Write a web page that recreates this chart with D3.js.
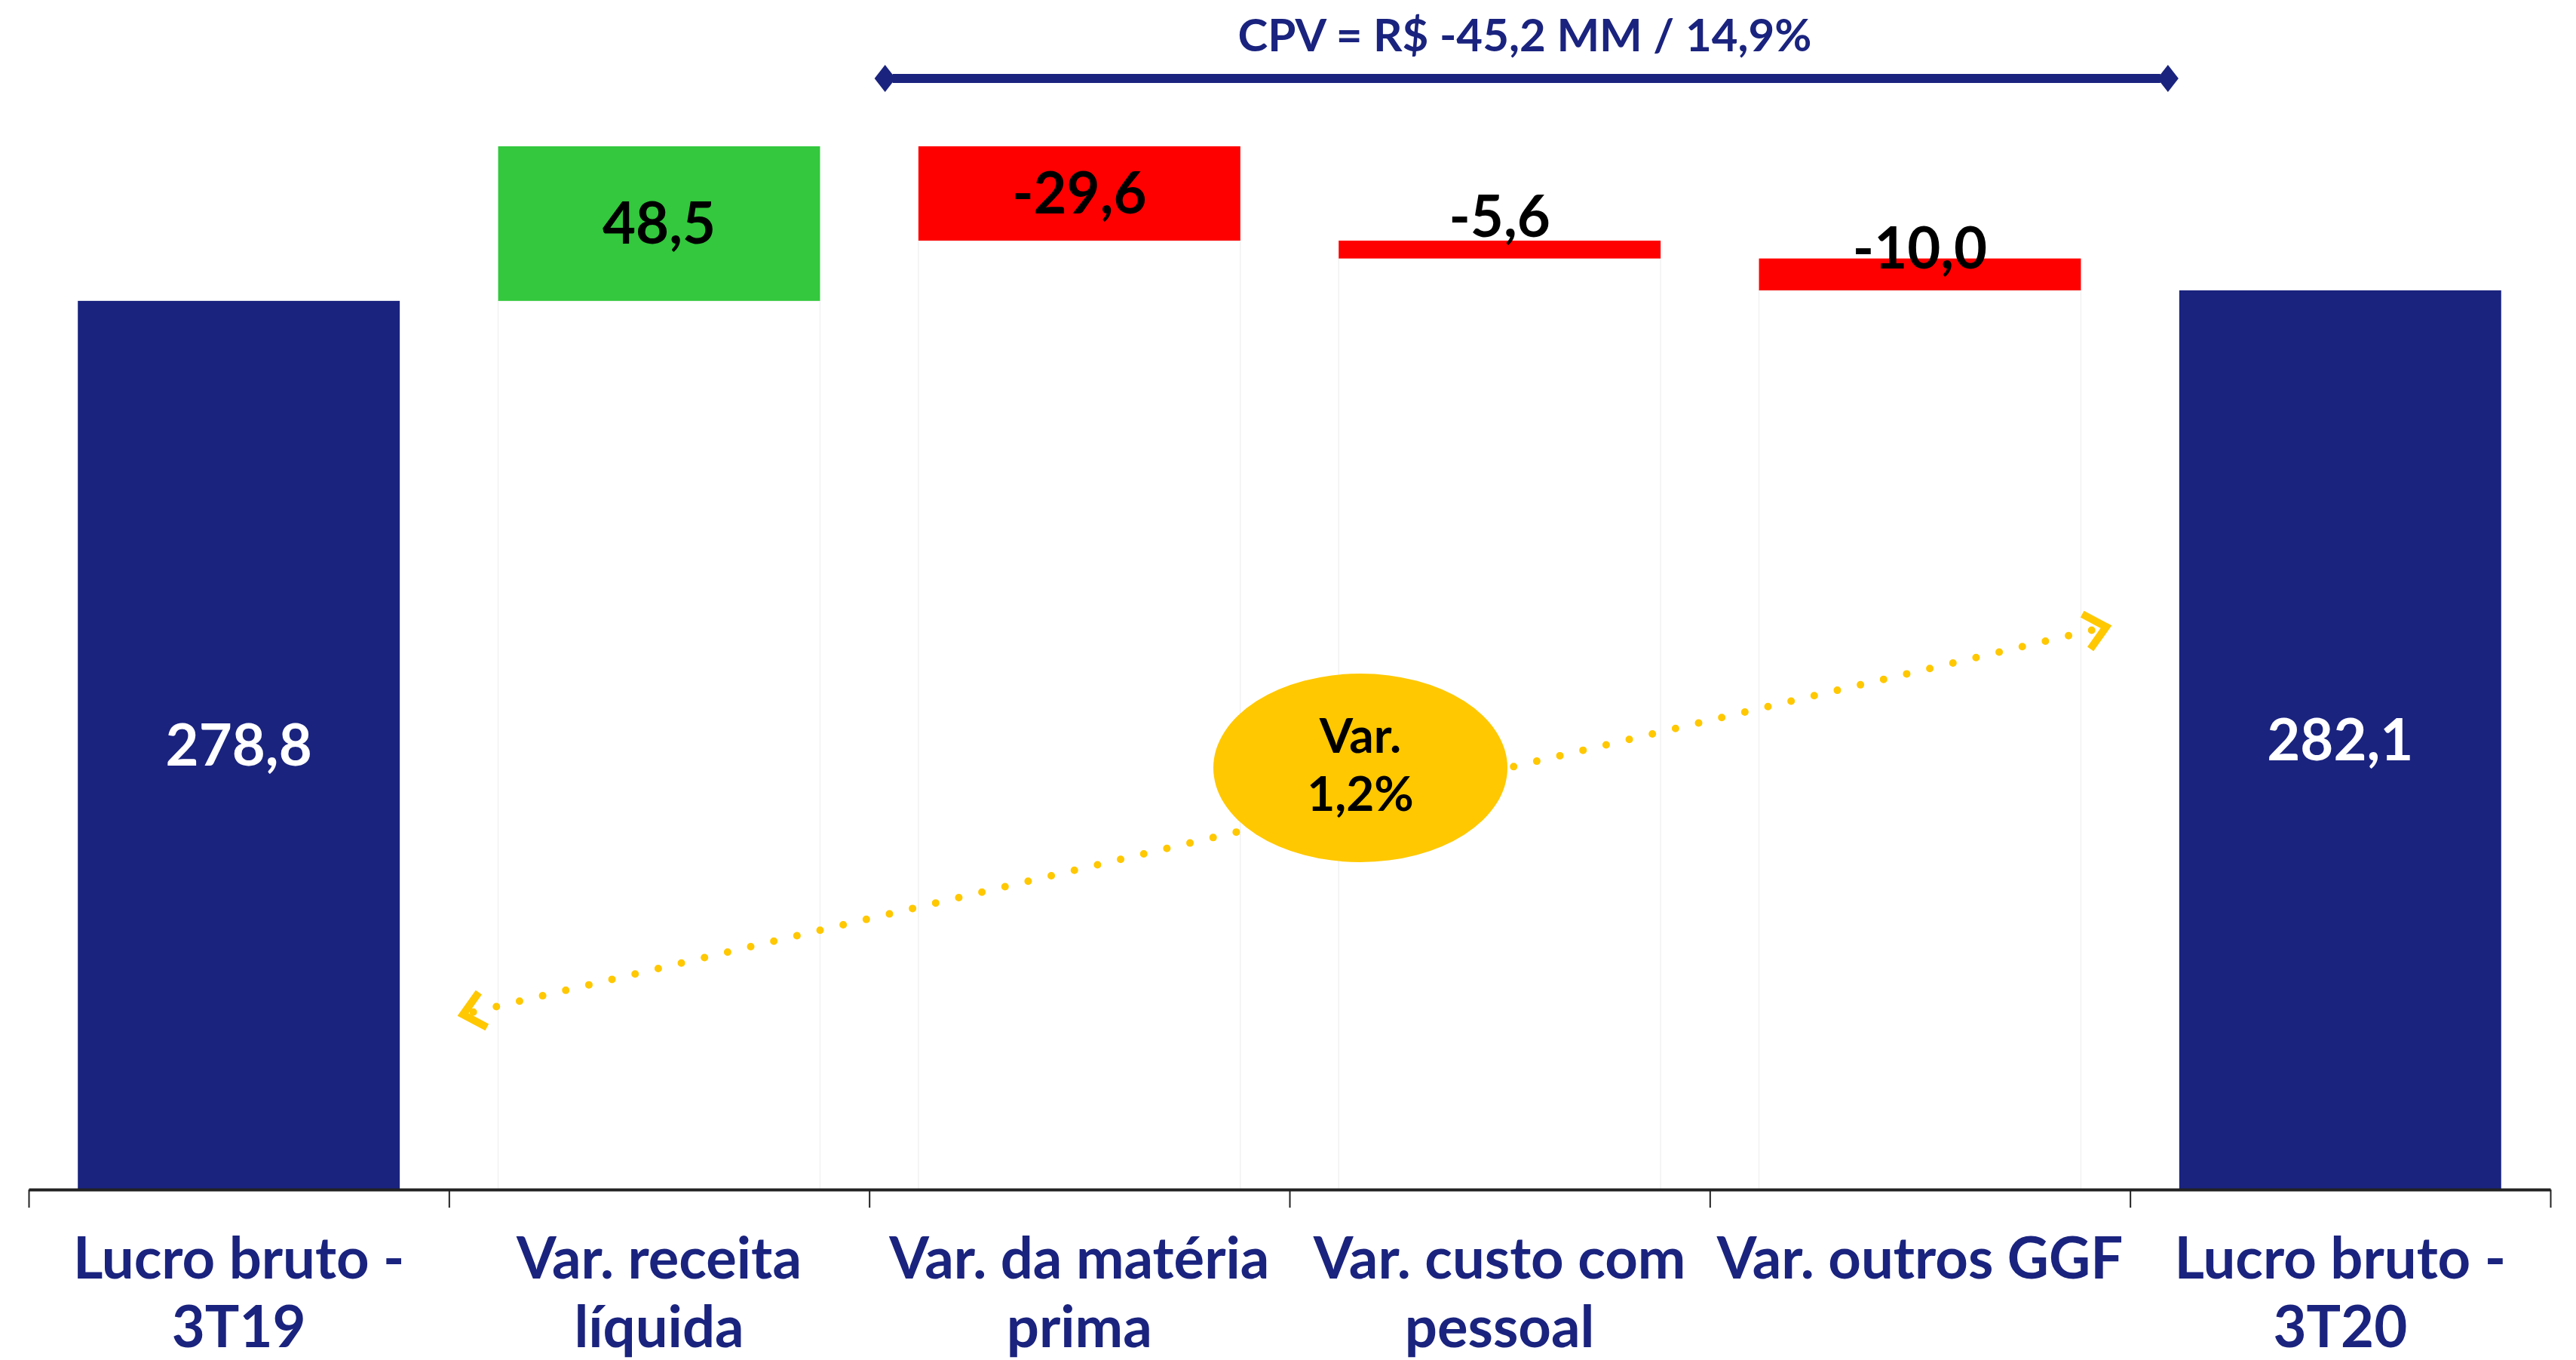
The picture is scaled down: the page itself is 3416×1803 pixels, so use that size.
<!DOCTYPE html>
<meta charset="utf-8">
<head>
  <script src="https://d3js.org/d3.v7.min.js"></script>
  <style>
    body { margin: 0; background: #fff; font-family: 'Lato', sans-serif; }
  </style>
</head>
<div id="chart"></div>
<script>
  // data
  var categories = ["Lucro bruto - 3T19", "Var. receita líquida", "Var. da matéria prima",
    "Var. custo com pessoal", "Var. outros GGF", "Lucro bruto - 3T20"];
  var tickLines = [["Lucro bruto -", "3T19"], ["Var. receita", "líquida"], ["Var. da matéria", "prima"],
    ["Var. custo com", "pessoal"], ["Var. outros GGF"], ["Lucro bruto -", "3T20"]];
  var values = [278.8, 48.5, -29.6, -5.6, -10.0, 282.1];
  var isTotal = [true, false, false, false, false, true];
  var cpvText = "CPV = R$ -45,2 MM / 14,9%";
  var varLines = ["Var.", "1,2%"];

  var navy = "#1a237e", green = "#33c83d", red = "#ff0000", yellow = "#ffc800";

  var W = 3416, H = 1803;
  var svg = d3.select("#chart").append("svg")
    .attr("width", W).attr("height", H);

  var x = d3.scaleBand().domain(categories).range([38, 3382])
    .paddingInner(0.234).paddingOuter(0.117);
  var y = d3.scaleLinear().domain([0, 350]).range([1577, 98]);

  var pt = d3.formatLocale({decimal: ",", thousands: ".", grouping: [3], currency: ["R$", ""], minus: "-"});
  var fmt = pt.format(".1f");

  // build waterfall steps
  var run = 0;
  var steps = values.map(function (v, i) {
    var s;
    if (isTotal[i]) { s = {lo: 0, hi: v}; run = v; }
    else { s = {lo: Math.min(run, run + v), hi: Math.max(run, run + v)}; run += v; }
    s.v = v; s.cat = categories[i]; s.total = isTotal[i];
    return s;
  });

  // faint invisible base bars (as in the source spreadsheet)
  svg.append("g").selectAll("rect")
    .data(steps.filter(function (d) { return !d.total; }))
    .join("rect")
    .attr("x", function (d) { return x(d.cat); })
    .attr("width", x.bandwidth())
    .attr("y", function (d) { return y(d.lo); })
    .attr("height", function (d) { return y(0) - y(d.lo); })
    .attr("fill", "none").attr("stroke", "#f2f2f2").attr("stroke-width", 1.5);

  // bars
  svg.append("g").selectAll("rect")
    .data(steps)
    .join("rect")
    .attr("x", function (d) { return x(d.cat); })
    .attr("width", x.bandwidth())
    .attr("y", function (d) { return y(d.hi); })
    .attr("height", function (d) { return y(d.lo) - y(d.hi); })
    .attr("fill", function (d) { return d.total ? navy : (d.v > 0 ? green : red); });

  // value labels
  svg.append("g").selectAll("text")
    .data(steps)
    .join("text")
    .attr("x", function (d) { return x(d.cat) + x.bandwidth() / 2; })
    .attr("y", function (d) {
      var mid = (y(d.lo) + y(d.hi)) / 2;
      var c = d.total ? mid : Math.min(mid, y(d.lo) - 56);
      return c + 27;
    })
    .attr("text-anchor", "middle")
    .attr("font-size", 76).attr("font-weight", 700)
    .attr("fill", function (d) { return d.total ? "#fff" : "#000"; })
    .text(function (d) { return fmt(d.v); });

  // x axis: ticks on category boundaries
  var edges = d3.scaleLinear().domain([0, categories.length]).range(x.range());
  var axis = svg.append("g")
    .attr("transform", "translate(0," + y(0) + ")")
    .call(d3.axisBottom(edges).tickValues(d3.range(categories.length + 1))
      .tickSize(24).tickSizeOuter(0).tickFormat(""));
  axis.select(".domain").attr("stroke", "#222").attr("stroke-width", 4);
  axis.selectAll(".tick line").attr("stroke", "#222").attr("stroke-width", 2);

  // category labels
  svg.append("g").selectAll("text")
    .data(categories)
    .join("text")
    .attr("x", function (d) { return x(d) + x.bandwidth() / 2; })
    .attr("y", 1695)
    .attr("text-anchor", "middle")
    .attr("font-size", 76).attr("font-weight", 700)
    .attr("fill", navy)
    .each(function (d, i) {
      var t = d3.select(this);
      tickLines[i].forEach(function (line, k) {
        t.append("tspan").attr("x", x(d) + x.bandwidth() / 2)
          .attr("dy", k === 0 ? 0 : 91).text(line);
      });
    });

  // CPV bracket over the cost bars
  var bx0 = x(categories[2]) - x.step() * x.paddingInner() / 2 + 21;
  var bx1 = x(categories[5]) - 15;
  var by = 104;
  svg.append("line")
    .attr("x1", bx0 + 10).attr("x2", bx1 - 10).attr("y1", by).attr("y2", by)
    .attr("stroke", navy).attr("stroke-width", 12);
  [bx0, bx1].forEach(function (cx) {
    svg.append("path")
      .attr("d", "M" + cx + "," + (by - 18) + "L" + (cx + 14) + "," + by + "L" + cx + "," + (by + 18) +
        "L" + (cx - 14) + "," + by + "Z")
      .attr("fill", navy);
  });
  svg.append("text")
    .attr("x", 2022).attr("y", 68)
    .attr("text-anchor", "middle")
    .attr("font-size", 60).attr("font-weight", 700)
    .attr("fill", navy)
    .text(cpvText);

  // yellow dotted variation arrow
  var ax0 = 614, ay0 = 1345, ax1 = 2793, ay1 = 831;
  var ang = Math.atan2(ay1 - ay0, ax1 - ax0);
  svg.append("line")
    .attr("x1", ax0 + 14 * Math.cos(ang)).attr("y1", ay0 + 14 * Math.sin(ang))
    .attr("x2", ax1 - 14 * Math.cos(ang)).attr("y2", ay1 - 14 * Math.sin(ang))
    .attr("stroke", yellow).attr("stroke-width", 10)
    .attr("stroke-linecap", "round").attr("stroke-dasharray", "0 31.5");
  function chevron(px, py, a) {
    var L = 36, s = 0.72;
    var p1 = [px - L * Math.cos(a - s), py - L * Math.sin(a - s)];
    var p2 = [px - L * Math.cos(a + s), py - L * Math.sin(a + s)];
    svg.append("path")
      .attr("d", "M" + p1 + "L" + px + "," + py + "L" + p2)
      .attr("fill", "none").attr("stroke", yellow).attr("stroke-width", 10)
      .attr("stroke-linejoin", "miter");
  }
  chevron(ax1, ay1, ang);
  chevron(ax0, ay0, ang + Math.PI);

  svg.append("ellipse")
    .attr("cx", 1804).attr("cy", 1018).attr("rx", 195).attr("ry", 125)
    .attr("fill", yellow);
  svg.append("g").selectAll("text").data(varLines).join("text")
    .attr("x", 1804).attr("y", function (d, i) { return 998 + i * 77; })
    .attr("text-anchor", "middle")
    .attr("font-size", 64).attr("font-weight", 700)
    .attr("fill", "#000")
    .text(function (d) { return d; });
</script>
